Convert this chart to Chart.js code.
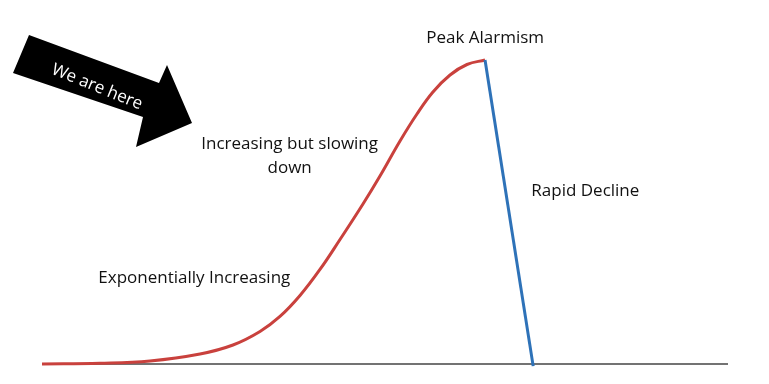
<!DOCTYPE html>
<html>
<head>
<meta charset="utf-8">
<script src="https://cdn.jsdelivr.net/npm/chart.js@4/dist/chart.umd.min.js"></script>
<style>
  html, body { margin: 0; padding: 0; background: #fff; }
  #wrap { width: 769px; height: 384px; }
</style>
</head>
<body>
<div id="wrap"><canvas id="chart" width="769" height="384"></canvas></div>
<script>
// rise (red) curve
const riseX = [0, 8.45, 15.74, 23.03, 27.84, 31.78, 34.69, 37.61, 40.52, 43.44, 46.79, 49.27, 52.19, 54.66, 56.99, 59.48, 61.95, 64.58];
const riseY = [0, 0.23, 0.99, 3.29, 6.25, 10.69, 15.63, 22.53, 31.09, 40.95, 52.63, 61.84, 73.36, 82.24, 89.47, 95.07, 98.52, 100];
// decline (blue) line
const declineX = [64.58, 71.6];
const declineY = [100, -0.7];
// baseline
const baseX = [0, 100];
const baseY = [0, 0];

const labelTexts = ["Peak Alarmism", "Increasing but slowing", "down", "Rapid Decline", "Exponentially Increasing"];
const labelX = [64.6, 36.1, 36.1, 79.2, 22.2];
const labelY = [105.6, 70.7, 62.8, 55.3, 26.6];

const toPoints = (xs, ys) => xs.map((x, i) => ({ x: x, y: ys[i] }));

const annotations = {
	id: "annotations",
	afterDraw(chart) {
		const ctx = chart.ctx;
		const xs = chart.scales.x, ys = chart.scales.y;
		ctx.save();
		ctx.fillStyle = "#111";
		ctx.font = "17px 'Open Sans'";
		ctx.textAlign = "center";
		ctx.textBaseline = "alphabetic";
		labelTexts.forEach((t, i) => {
			ctx.fillText(t, xs.getPixelForValue(labelX[i]), ys.getPixelForValue(labelY[i]));
		});

		// the "We are here" arrow
		ctx.beginPath();
		ctx.moveTo(29, 35);
		ctx.lineTo(159, 83);
		ctx.lineTo(167, 65);
		ctx.lineTo(192, 123);
		ctx.lineTo(136, 147);
		ctx.lineTo(143, 117);
		ctx.lineTo(13, 73);
		ctx.closePath();
		ctx.fillStyle = "#000";
		ctx.fill();

		ctx.translate(97, 87);
		ctx.rotate(22 * Math.PI / 180);
		ctx.fillStyle = "#fff";
		ctx.font = "17px 'Open Sans'";
		ctx.textBaseline = "middle";
		ctx.fillText("We are here", 0, 0);
		ctx.restore();
	}
};

new Chart(document.getElementById("chart").getContext("2d"), {
	type: "line",
	data: {
		datasets: [
			{
				data: toPoints(riseX, riseY),
				borderColor: "#C9413D",
				borderWidth: 3,
				pointRadius: 0,
				tension: 0.4,
				clip: false,
				order: 1
			},
			{
				data: toPoints(declineX, declineY),
				borderColor: "#2E72B8",
				borderWidth: 3,
				pointRadius: 0,
				clip: false,
				order: 0
			},
			{
				data: toPoints(baseX, baseY),
				borderColor: "#444",
				borderWidth: 1.5,
				pointRadius: 0,
				clip: false,
				order: 2
			}
		]
	},
	options: {
		responsive: false,
		animation: false,
		devicePixelRatio: 1,
		layout: { padding: { left: 42, right: 41, top: 60, bottom: 20 } },
		plugins: { legend: { display: false }, tooltip: { enabled: false } },
		scales: {
			x: { type: "linear", min: 0, max: 100, display: false },
			y: { min: 0, max: 100, display: false }
		}
	},
	plugins: [annotations]
});
</script>
</body>
</html>
